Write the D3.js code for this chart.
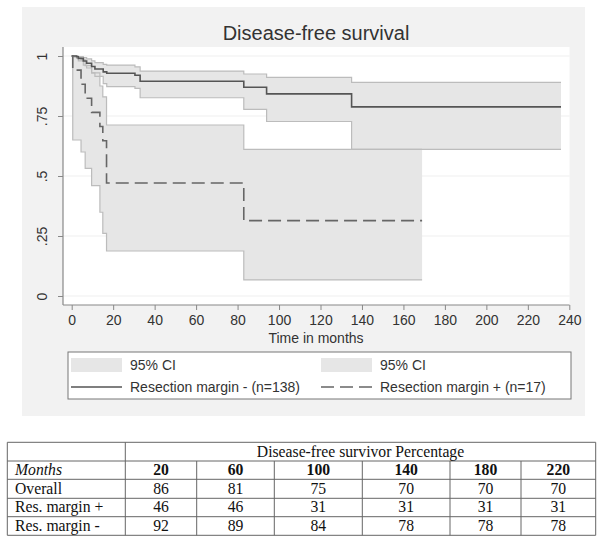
<!DOCTYPE html>
<html>
<head>
<meta charset="utf-8">
<script src="https://cdn.jsdelivr.net/npm/d3@7"></script>
<style>
  html, body { margin: 0; padding: 0; background: #fff; }
  svg { display: block; }
</style>
</head>
<body>
<svg id="chart" width="604" height="544"></svg>
<script>
// ---------------- DATA ----------------
const chartTitle = "Disease-free survival";
const xTicks = [0, 20, 40, 60, 80, 100, 120, 140, 160, 180, 200, 220, 240];
const yTicks = [0, 0.25, 0.5, 0.75, 1];
const yTickLabels = ["0", ".25", ".5", ".75", "1"];

// Resection margin - (n=138): step times, survival, CI
const negTime  = [0, 2.4, 3.2, 5.6, 7.2, 9.6, 11.2, 15.2, 16.9, 30.5, 33, 83, 94, 135];
const negSurv  = [1, 0.997, 0.99, 0.979, 0.97, 0.956, 0.946, 0.934, 0.928, 0.92, 0.895, 0.87, 0.842, 0.788];
const negHi    = [1, 1, 0.998, 0.993, 0.988, 0.98, 0.972, 0.965, 0.962, 0.955, 0.937, 0.925, 0.911, 0.89];
const negLo    = [1, 0.99, 0.98, 0.962, 0.95, 0.93, 0.915, 0.885, 0.872, 0.865, 0.826, 0.778, 0.727, 0.611];
const negEnd   = 236;

// Resection margin + (n=17)
const posTime  = [0, 0.5, 4.5, 6.5, 9.6, 13.6, 15, 16.8, 83];
const posSurv  = [1, 0.941, 0.882, 0.824, 0.765, 0.706, 0.647, 0.471, 0.314];
const posHi    = [1, 0.995, 0.985, 0.96, 0.93, 0.875, 0.83, 0.7125, 0.611];
const posLo    = [1, 0.65, 0.60, 0.532, 0.46, 0.349, 0.261, 0.1875, 0.067];
const posEnd   = 169;

const legendLabels = ["95% CI", "Resection margin - (n=138)", "95% CI", "Resection margin + (n=17)"];
const xAxisTitle = "Time in months";

// Table
const tableTitle = "Disease-free survivor Percentage";
const tableMonths = [20, 60, 100, 140, 180, 220];
const tableRowNames = ["Overall", "Res. margin +", "Res. margin -"];
const tableOverall = [86, 81, 75, 70, 70, 70];
const tableResPlus = [46, 46, 31, 31, 31, 31];
const tableResMinus = [92, 89, 84, 78, 78, 78];

// ---------------- LAYOUT ----------------
const svg = d3.select("#chart");
const sans = "'Liberation Sans', Arial, sans-serif";
const serif = "'Liberation Serif', 'Times New Roman', serif";
const ciFill = "#e6e6e6", ciStroke = "#bcbcbc";

// outer graph region
svg.append("rect").attr("x", 22).attr("y", 7).attr("width", 563).attr("height", 409).attr("fill", "#f2f2f2");
// plot region
const plot = { left: 63, right: 569.5, top: 47, bottom: 305 };
svg.append("rect").attr("x", plot.left).attr("y", plot.top)
  .attr("width", plot.right - plot.left).attr("height", plot.bottom - plot.top).attr("fill", "#fff");

const x = d3.scaleLinear().domain([0, 240]).range([71.7, 569.3]);
const y = d3.scaleLinear().domain([0, 1]).range([296, 56]);

// gridlines
svg.append("g").selectAll("line").data(yTicks).join("line")
  .attr("x1", plot.left).attr("x2", plot.right)
  .attr("y1", d => y(d)).attr("y2", d => y(d))
  .attr("stroke", "#efefef").attr("stroke-width", 1);

// title
svg.append("text").attr("x", 316).attr("y", 40).attr("text-anchor", "middle")
  .attr("font-family", sans).attr("font-size", 20).attr("fill", "#333").text(chartTitle);

function stepPts(times, vals, end) {
  const pts = times.map((t, i) => [t, vals[i]]);
  pts.push([end, vals[vals.length - 1]]);
  return pts;
}
function bandPts(times, lo, hi, end) {
  const pts = times.map((t, i) => ({ t, lo: lo[i], hi: hi[i] }));
  pts.push({ t: end, lo: lo[lo.length - 1], hi: hi[hi.length - 1] });
  return pts;
}
const area = d3.area().curve(d3.curveStepAfter)
  .x(d => x(d.t)).y0(d => y(d.lo)).y1(d => y(d.hi));
const lineHi = d3.line().curve(d3.curveStepAfter).x(d => x(d.t)).y(d => y(d.hi));
const lineLo = d3.line().curve(d3.curveStepAfter).x(d => x(d.t)).y(d => y(d.lo));
const line = d3.line().curve(d3.curveStepAfter).x(d => x(d[0])).y(d => y(d[1]));

const negBand = bandPts(negTime, negLo, negHi, negEnd);
const posBand = bandPts(posTime, posLo, posHi, posEnd);

const g = svg.append("g");
[negBand, posBand].forEach(b => {
  g.append("path").attr("d", area(b)).attr("fill", ciFill).attr("stroke", "none");
});
[negBand, posBand].forEach(b => {
  g.append("path").attr("d", lineHi(b)).attr("fill", "none").attr("stroke", ciStroke).attr("stroke-width", 1.2);
  g.append("path").attr("d", lineLo(b)).attr("fill", "none").attr("stroke", ciStroke).attr("stroke-width", 1.2);
});
g.append("path").attr("d", line(stepPts(negTime, negSurv, negEnd)))
  .attr("fill", "none").attr("stroke", "#555").attr("stroke-width", 1.6);
g.append("path").attr("d", line(stepPts(posTime, posSurv, posEnd)))
  .attr("fill", "none").attr("stroke", "#666").attr("stroke-width", 1.6)
  .attr("stroke-dasharray", "13,6");

// axes lines
svg.append("line").attr("x1", plot.left).attr("x2", plot.left).attr("y1", plot.top).attr("y2", plot.bottom)
  .attr("stroke", "#888").attr("stroke-width", 1.2);
svg.append("line").attr("x1", plot.left).attr("x2", plot.right).attr("y1", plot.bottom).attr("y2", plot.bottom)
  .attr("stroke", "#888").attr("stroke-width", 1.2);

// x axis
const xAxis = svg.append("g").attr("transform", `translate(0,${plot.bottom})`)
  .call(d3.axisBottom(x).tickValues(xTicks).tickSize(5).tickPadding(5).tickFormat(d3.format("d")));
xAxis.select(".domain").remove();
xAxis.selectAll("line").attr("stroke", "#888");
xAxis.selectAll("text").attr("font-family", sans).attr("font-size", 14).attr("fill", "#333");

// y axis
const yAxis = svg.append("g").attr("transform", `translate(${plot.left},0)`)
  .call(d3.axisLeft(y).tickValues(yTicks).tickSize(5).tickFormat((d, i) => yTickLabels[i]));
yAxis.select(".domain").remove();
yAxis.selectAll("line").attr("stroke", "#888");
yAxis.selectAll("text")
  .attr("font-family", sans).attr("font-size", 14).attr("fill", "#333")
  .attr("x", null).attr("dy", null)
  .attr("text-anchor", "middle")
  .attr("transform", "translate(-16,0) rotate(-90)");

// x axis title
svg.append("text").attr("x", 316).attr("y", 343).attr("text-anchor", "middle")
  .attr("font-family", sans).attr("font-size", 14).attr("fill", "#333").text(xAxisTitle);

// legend
const lg = svg.append("g");
lg.append("rect").attr("x", 68).attr("y", 352).attr("width", 503).attr("height", 47)
  .attr("fill", "#fff").attr("stroke", "#777").attr("stroke-width", 1);
const cols = [71, 321];
const rows = [365, 387];
cols.forEach((cx, ci) => {
  lg.append("rect").attr("x", cx).attr("y", rows[0] - 7).attr("width", 51).attr("height", 14).attr("fill", ciFill);
  lg.append("line").attr("x1", cx).attr("x2", cx + 51).attr("y1", rows[1]).attr("y2", rows[1])
    .attr("stroke", ci === 0 ? "#555" : "#666").attr("stroke-width", 1.3)
    .attr("stroke-dasharray", ci === 0 ? null : "13,6");
  [0, 1].forEach(ri => {
    lg.append("text").attr("x", cx + 59).attr("y", rows[ri] + 5)
      .attr("font-family", sans).attr("font-size", 14).attr("fill", "#333")
      .text(legendLabels[ci * 2 + ri]);
  });
});

// ---------------- TABLE ----------------
const colEdges = [7.3, 125.3, 196.7, 274.3, 362.3, 450, 521, 595.7];
const rowEdges = [442.3, 461, 479.3, 498.3, 516.7, 535.3];
const tg = svg.append("g");
const tStroke = "#666";
// horizontal lines
rowEdges.forEach(ry => {
  tg.append("line").attr("x1", colEdges[0]).attr("x2", colEdges[7]).attr("y1", ry).attr("y2", ry)
    .attr("stroke", tStroke).attr("stroke-width", 1);
});
// vertical lines
colEdges.forEach((cx, i) => {
  const top = (i === 0 || i === 1 || i === 7) ? rowEdges[0] : rowEdges[1];
  tg.append("line").attr("x1", cx).attr("x2", cx).attr("y1", top).attr("y2", rowEdges[5])
    .attr("stroke", tStroke).attr("stroke-width", 1);
});
const tText = (tx, ty, s, opts = {}) => tg.append("text").attr("x", tx).attr("y", ty)
  .attr("font-family", serif).attr("font-size", 15.7).attr("fill", "#111")
  .attr("text-anchor", opts.anchor || "middle")
  .attr("font-weight", opts.bold ? "bold" : null)
  .attr("font-style", opts.italic ? "italic" : null)
  .text(s);
const base = i => rowEdges[i + 1] - 4.3;
tText((colEdges[1] + colEdges[7]) / 2, base(0), tableTitle);
tText(15, base(1), "Months", { anchor: "start", italic: true });
const centers = tableMonths.map((m, i) => (colEdges[i + 1] + colEdges[i + 2]) / 2);
tableMonths.forEach((m, i) => tText(centers[i], base(1), m, { bold: true }));
[tableOverall, tableResPlus, tableResMinus].forEach((vals, r) => {
  tText(15, base(r + 2), tableRowNames[r], { anchor: "start" });
  vals.forEach((v, i) => tText(centers[i], base(r + 2), v));
});
</script>
</body>
</html>
